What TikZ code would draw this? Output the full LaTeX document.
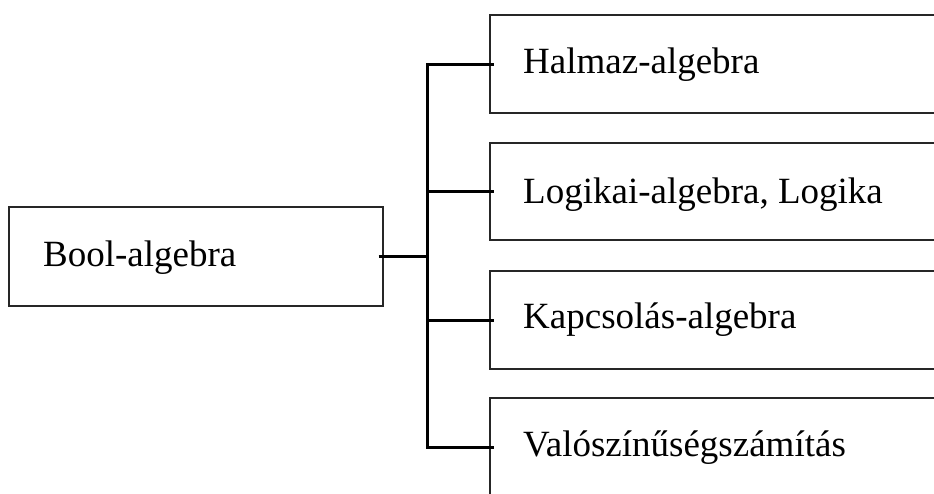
\documentclass[tikz,border=0pt]{standalone}
\usepackage{fontspec}
\setmainfont{Liberation Serif}
\begin{document}
\begin{tikzpicture}[x=1pt,y=-1pt,
  box/.style={draw=black!85,line width=1.3pt,rectangle,inner sep=0pt},
  lbl/.style={anchor=base west,inner sep=0pt,font=\fontsize{37}{44}\selectfont},
  conn/.style={draw=black,line width=3pt}]
\useasboundingbox (0,0) rectangle (934,493);
\clip (0,0) rectangle (934,493);
\fill[white] (0,0) rectangle (934,493);
% boxes
\node[box,minimum width=374pt,minimum height=99pt] (bool) at (196,256.5) {};
\node[box,minimum width=520pt,minimum height=98pt] (b1) at (750,64) {};
\node[box,minimum width=520pt,minimum height=97pt] (b2) at (750,191.5) {};
\node[box,minimum width=520pt,minimum height=98pt] (b3) at (750,320) {};
\node[box,minimum width=520pt,minimum height=98pt] (b4) at (750,447) {};
% texts
\node[lbl] (t0) at (43,266) {Bool-algebra};
\node[lbl] (t1) at (523,73) {Halmaz-algebra};
\node[lbl] (t2) at (523,203) {Logikai-algebra, Logika};
\node[lbl] (t3) at (523,328) {Kapcsolás-algebra};
\node[lbl] (t4) at (523,456) {Valószínűségszámítás};
% connectors
\coordinate (j) at (427,256.5);
\draw[conn] ([xshift=-5pt]bool.east) -- (j);
\draw[conn,line cap=rect] (j |- b1.west) -- (j |- b4.west);
\draw[conn] (j |- b1.west) -- ([xshift=5pt]b1.west);
\draw[conn] (j |- b2.west) -- ([xshift=5pt]b2.west);
\draw[conn] (j |- b3.west) -- ([xshift=5pt]b3.west);
\draw[conn] (j |- b4.west) -- ([xshift=5pt]b4.west);
\end{tikzpicture}
\end{document}
